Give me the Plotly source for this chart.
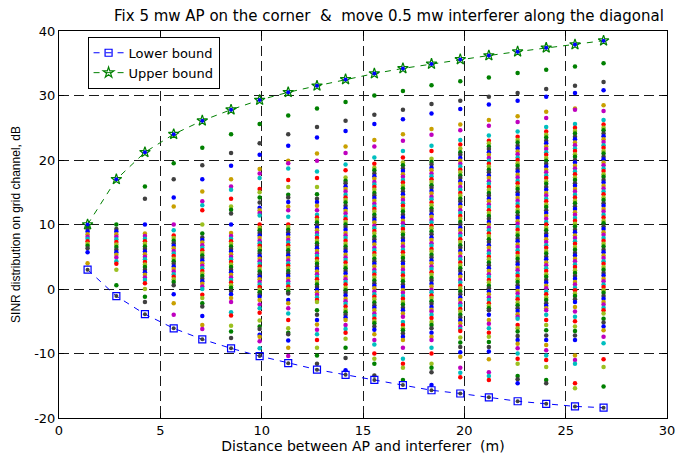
import plotly.graph_objects as go

# ---------------- data ----------------
XPOS = [1.41, 2.83, 4.24, 5.66, 7.07, 8.49, 9.90, 11.31, 12.73, 14.14,
        15.56, 16.97, 18.38, 19.80, 21.21, 22.63, 24.04, 25.46, 26.87]

UPPER = [10.0, 17.0, 21.2, 24.0, 26.1, 27.8, 29.3, 30.5, 31.5, 32.5,
         33.4, 34.2, 34.9, 35.6, 36.2, 36.8, 37.4, 37.9, 38.5]

LOWER = [3.0, -1.1, -3.9, -6.1, -7.8, -9.2, -10.4, -11.5, -12.5, -13.3,
         -14.1, -14.9, -15.7, -16.2, -16.8, -17.4, -17.8, -18.2, -18.4]

COL01 = [9.7, 9.3, 8.9, 8.5, 8.1, 7.8, 7.4, 7.0, 6.7, 6.3, 5.7, 4.0]
COL02 = [10.0, 9.3, 8.9, 8.5, 8.1, 7.7, 7.3, 6.9, 6.5, 6.1, 5.7, 5.3, 4.9, 4.3, 3.9, 3.0, 0.6]
COL03 = [15.9, 14.0, 10.0, 8.6, 8.2, 7.8, 7.4, 7.0, 6.6, 6.2, 5.8, 5.4, 5.0, 4.6, 4.2, 3.8,
         3.4, 3.0, 2.6, 2.2, 1.8, 1.4, 0.9, 0.0, -1.2, -2.0]
COL04 = [19.5, 17.0, 14.2, 12.8, 10.0, 9.1, 8.3, 7.9, 7.5, 7.1, 6.7, 6.3, 5.9, 5.5, 5.1, 4.7,
         4.3, 3.9, 3.5, 3.1, 2.7, 2.3, 1.9, 1.5, 1.1, 0.6, -0.8, -2.2, -4.0]
COL05 = [21.9, 19.2, 17.0, 15.1, 13.6, 13.0, 12.2, 10.0, 8.6, 8.0, 7.6, 7.2, 6.8, 6.4, 6.0,
         5.6, 5.2, 4.8, 4.4, 4.0, 3.6, 3.2, 2.8, 2.4, 2.0, 1.6, 1.2, 0.8, 0.4, 0.0, -0.9,
         -1.4, -2.2, -2.7, -4.2, -5.6, -6.2]
COL06 = [24.0, 21.1, 19.1, 17.0, 15.9, 15.4, 14.0, 12.8, 12.3, 11.7, 10.0, 8.7, 8.2, 7.8,
         7.4, 7.0, 6.6, 6.2, 5.8, 5.4, 5.0, 4.6, 4.2, 3.8, 3.4, 3.0, 2.6, 2.2, 1.8, 1.4, 1.0,
         0.6, 0.2, -0.3, -0.8, -1.4, -2.0, -3.6, -4.1, -5.7, -6.6, -7.6]
COL07 = [25.6, 22.6, 20.8, 18.6, 17.9, 17.2, 15.5, 15.0, 14.2, 13.4, 12.6, 12.2, 11.8, 11.4,
         10.0, 9.5, 9.1, 8.7, 8.3, 7.9, 7.5, 7.1, 6.7, 6.3, 5.9, 5.5, 5.1, 4.7, 4.3, 3.9, 3.5,
         3.1, 2.7, 2.3, 1.9, 1.5, 1.1, 0.7, 0.3, -0.1, -0.5, -0.9, -1.2, -1.7, -2.4, -3.0,
         -3.7, -4.9, -5.8, -6.2, -7.1, -7.4, -8.1, -9.2]
COL08 = [26.9, 24.0, 22.2, 19.9, 19.5, 18.7, 16.9, 15.8, 14.6, 14.2, 13.5, 12.8, 12.2, 11.2,
         10.0, 9.6, 9.2, 8.8, 8.4, 8.0, 7.6, 7.2, 6.8, 6.4, 6.0, 5.6, 5.2, 4.8, 4.4, 4.0, 3.6,
         3.2, 2.8, 2.4, 2.0, 1.6, 1.2, 0.8, 0.4, 0.0, -0.4, -0.7, -1.7, -2.2, -3.0, -3.8,
         -4.8, -6.1, -6.8, -7.0, -8.0, -9.1, -10.4]
COL09 = [28.0, 25.1, 23.5, 21.0, 19.9, 18.2, 17.2, 15.8, 14.7, 14.0, 13.5, 12.9, 12.2, 11.5,
         11.1, 10.7, 10.3, 9.9, 9.5, 9.1, 8.7, 8.3, 7.9, 7.5, 7.1, 6.7, 6.3, 5.9, 5.5, 5.1,
         4.7, 4.3, 3.9, 3.5, 3.1, 2.7, 2.3, 1.9, 1.5, 1.1, 0.7, 0.3, -0.1, -0.5, -0.9, -1.3,
         -1.7, -2.0, -3.3, -4.0, -4.8, -5.5, -6.3, -7.0, -7.9, -9.1, -10.3, -11.6]
COL10 = [29.0, 26.1, 24.5, 22.1, 21.1, 19.3, 18.4, 17.3, 16.8, 16.4, 15.9, 15.5, 15.1, 14.6,
         14.2, 13.8, 13.4, 12.9, 12.5, 12.1, 11.7, 11.2, 10.8, 10.4, 10.0, 9.6, 9.2, 8.7, 8.3,
         7.9, 7.5, 7.0, 6.6, 6.2, 5.8, 5.3, 4.9, 4.5, 4.1, 3.6, 3.2, 2.8, 2.4, 1.9, 1.5, 1.1,
         0.7, 0.2, -0.2, -0.6, -1.0, -1.5, -1.9, -2.3, -2.7, -3.2, -3.6, -4.0, -4.4, -4.8,
         -5.6, -6.2, -6.8, -7.7, -9.1, -10.7, -12.6]
COL11 = [30.0, 27.0, 25.6, 23.1, 22.1, 20.4, 19.4, 18.8, 18.4, 17.9, 17.5, 17.1, 16.6, 16.2,
         15.8, 15.4, 14.9, 14.5, 14.1, 13.7, 13.2, 12.8, 12.4, 12.0, 11.5, 11.1, 10.7, 10.3,
         9.8, 9.4, 9.0, 8.6, 8.1, 7.7, 7.3, 6.9, 6.4, 6.0, 5.6, 5.2, 4.7, 4.3, 3.9, 3.5, 3.0,
         2.6, 2.2, 1.8, 1.3, 0.9, 0.5, 0.1, -0.4, -0.8, -1.2, -1.6, -2.1, -2.5, -2.9, -3.3,
         -3.8, -4.2, -4.6, -5.0, -5.3, -5.8, -6.3, -7.0, -7.9, -8.6, -10.0, -10.8, -11.6, -13.4]
COL12 = [30.7, 27.8, 26.3, 24.0, 23.0, 21.4, 20.4, 19.6, 19.2, 18.7, 18.3, 17.8, 17.4, 16.9,
         16.5, 16.0, 15.6, 15.1, 14.7, 14.2, 13.8, 13.3, 12.9, 12.4, 12.0, 11.5, 11.1, 10.6,
         10.2, 9.7, 9.3, 8.8, 8.4, 7.9, 7.5, 7.0, 6.6, 6.1, 5.7, 5.2, 4.8, 4.3, 3.9, 3.4, 3.0,
         2.5, 2.1, 1.6, 1.2, 0.7, 0.3, -0.2, -0.6, -1.1, -1.5, -2.0, -2.4, -2.9, -3.3, -3.8,
         -4.3, -5.1, -5.6, -6.1, -6.4, -6.9, -7.4, -7.9, -9.1, -10.8, -11.6, -12.2, -14.1]
COL13 = [31.6, 28.7, 27.2, 24.8, 23.9, 22.2, 21.4, 20.2, 19.7, 19.3, 18.8, 18.4, 17.9, 17.5,
         17.0, 16.6, 16.1, 15.7, 15.2, 14.8, 14.3, 13.9, 13.4, 13.0, 12.5, 12.1, 11.6, 11.2,
         10.7, 10.3, 9.8, 9.4, 8.9, 8.5, 8.0, 7.6, 7.1, 6.7, 6.2, 5.8, 5.3, 4.9, 4.4, 4.0, 3.5,
         3.1, 2.6, 2.2, 1.7, 1.3, 0.8, 0.4, -0.1, -0.5, -1.0, -1.4, -1.9, -2.3, -2.8, -3.2,
         -3.5, -4.0, -4.5, -5.1, -5.6, -6.1, -6.8, -7.4, -7.9, -9.1, -10.0, -11.6, -12.2,
         -12.9, -14.9]
COL14 = [32.2, 29.2, 27.9, 25.5, 24.6, 23.1, 22.4, 21.8, 21.2, 20.8, 20.3, 19.9, 19.4, 19.0,
         18.5, 18.1, 17.6, 17.2, 16.7, 16.3, 15.8, 15.4, 14.9, 14.5, 14.0, 13.6, 13.1, 12.7,
         12.2, 11.8, 11.3, 10.9, 10.4, 10.0, 9.5, 9.1, 8.6, 8.2, 7.7, 7.3, 6.8, 6.4, 5.9, 5.5,
         5.0, 4.6, 4.1, 3.7, 3.2, 2.8, 2.3, 1.9, 1.4, 1.0, 0.5, 0.1, -0.4, -0.8, -1.3, -1.7,
         -2.2, -2.6, -3.1, -3.5, -4.0, -4.4, -4.9, -5.3, -5.8, -6.2, -6.5, -7.5, -8.3, -9.0,
         -9.8, -10.5, -12.2, -13.0, -13.7]
COL15 = [32.8, 29.8, 28.6, 26.2, 25.3, 23.8, 23.0, 22.6, 22.1, 21.7, 21.2, 20.8, 20.3, 19.9,
         19.4, 19.0, 18.5, 18.1, 17.6, 17.2, 16.7, 16.3, 15.8, 15.4, 14.9, 14.5, 14.0, 13.6,
         13.1, 12.7, 12.2, 11.8, 11.3, 10.9, 10.4, 10.0, 9.5, 9.1, 8.6, 8.2, 7.7, 7.3, 6.8,
         6.4, 5.9, 5.5, 5.0, 4.6, 4.1, 3.7, 3.2, 2.8, 2.3, 1.9, 1.4, 1.0, 0.5, 0.1, -0.4,
         -0.8, -1.3, -1.7, -2.2, -2.6, -3.0, -3.3, -4.0, -4.8, -5.4, -6.1, -6.8, -7.4, -8.2,
         -9.0, -9.7, -10.9, -12.9, -13.5, -14.1]
COL16 = [33.5, 30.4, 29.2, 26.8, 25.9, 24.4, 23.6, 23.1, 22.7, 22.2, 21.8, 21.3, 20.9, 20.4,
         20.0, 19.5, 19.1, 18.6, 18.2, 17.7, 17.3, 16.8, 16.4, 15.9, 15.5, 15.0, 14.6, 14.1,
         13.7, 13.2, 12.8, 12.3, 11.9, 11.4, 11.0, 10.5, 10.1, 9.6, 9.2, 8.7, 8.3, 7.8, 7.4,
         6.9, 6.5, 6.0, 5.6, 5.1, 4.7, 4.2, 3.8, 3.3, 2.9, 2.4, 2.0, 1.5, 1.1, 0.6, 0.2, -0.3,
         -0.7, -1.2, -1.6, -2.1, -2.5, -3.0, -3.4, -3.9, -4.3, -4.6, -5.6, -6.1, -6.6, -7.3,
         -7.9, -8.5, -9.2, -10.0, -10.8, -11.6, -13.5, -14.0, -14.6]
COL17 = [34.0, 31.0, 29.8, 27.5, 26.5, 25.1, 24.4, 23.9, 23.5, 23.0, 22.6, 22.1, 21.7, 21.2,
         20.8, 20.3, 19.9, 19.4, 19.0, 18.5, 18.1, 17.6, 17.2, 16.7, 16.3, 15.8, 15.4, 14.9,
         14.5, 14.0, 13.6, 13.1, 12.7, 12.2, 11.8, 11.3, 10.9, 10.4, 10.0, 9.5, 9.1, 8.6, 8.2,
         7.7, 7.3, 6.8, 6.4, 5.9, 5.5, 5.0, 4.6, 4.1, 3.7, 3.2, 2.8, 2.3, 1.9, 1.4, 1.0, 0.5,
         0.1, -0.4, -0.8, -1.3, -1.7, -2.2, -2.6, -3.0, -3.3, -4.0, -4.8, -5.6, -6.4, -7.2,
         -7.9, -8.7, -9.5, -10.3, -11.0, -12.1, -14.1, -14.6]
COL18 = [34.5, 31.5, 30.4, 28.0, 27.8, 25.6, 25.0, 24.5, 24.1, 23.6, 23.2, 22.7, 22.3, 21.8,
         21.4, 20.9, 20.5, 20.0, 19.6, 19.1, 18.7, 18.2, 17.8, 17.3, 16.9, 16.4, 16.0, 15.5,
         15.1, 14.6, 14.2, 13.7, 13.3, 12.8, 12.4, 11.9, 11.5, 11.0, 10.6, 10.1, 9.7, 9.2, 8.8,
         8.3, 7.9, 7.4, 7.0, 6.5, 6.1, 5.6, 5.2, 4.7, 4.3, 3.8, 3.4, 2.9, 2.5, 2.0, 1.6, 1.1,
         0.7, 0.2, -0.2, -0.7, -1.1, -1.6, -2.0, -2.8, -3.5, -4.3, -5.0, -5.8, -6.5, -7.2,
         -7.9, -10.3, -11.0, -11.6, -14.6, -15.4]
COL19 = [35.0, 32.1, 30.8, 28.5, 27.6, 26.2, 25.5, 25.0, 24.6, 24.1, 23.7, 23.2, 22.8, 22.3,
         21.9, 21.4, 21.0, 20.5, 20.1, 19.6, 19.2, 18.7, 18.3, 17.8, 17.4, 16.9, 16.5, 16.0,
         15.6, 15.1, 14.7, 14.2, 13.8, 13.3, 12.9, 12.4, 12.0, 11.5, 11.1, 10.6, 10.2, 9.7,
         9.3, 8.8, 8.4, 7.9, 7.5, 7.0, 6.6, 6.1, 5.7, 5.2, 4.8, 4.3, 3.9, 3.4, 3.0, 2.5, 2.1,
         1.6, 1.2, 0.7, 0.3, -0.2, -0.6, -1.1, -1.5, -2.0, -2.4, -2.9, -3.3, -3.8, -4.6, -5.2,
         -5.8, -6.4, -7.4, -8.4, -10.9, -12.1, -15.1]

COLUMNS = [COL01, COL02, COL03, COL04, COL05, COL06, COL07, COL08, COL09, COL10,
           COL11, COL12, COL13, COL14, COL15, COL16, COL17, COL18, COL19]

X_TICKS = [0, 5, 10, 15, 20, 25, 30]
Y_TICKS = [-20, -10, 0, 10, 20, 30, 40]

TITLE = "Fix 5 mw AP on the corner\u00a0 &\u00a0 move 0.5 mw interferer along the diagonal"
XLABEL = "Distance between AP and interferer\u00a0 (m)"
YLABEL = "SINR distribution on grid channel, dB"
SERIES_NAMES = ["Lower bound", "Upper bound"]

# ---------------- styles ----------------
PALETTE = ["#008000", "#404040", "#0000ff", "#c8a000", "#bf00bf", "#00bfbf", "#ff0000", "#9cc020"]
HFONT = "DejaVu Sans"
VFONT = "Liberation Sans, Arial"

xs, ys, cs = [], [], []
for xv, col in zip(XPOS, COLUMNS):
    for i, yv in enumerate(col):
        xs.append(xv)
        ys.append(yv)
        cs.append(PALETTE[i % len(PALETTE)])

fig = go.Figure()

fig.add_trace(go.Scatter(
    x=xs, y=ys, mode="markers", showlegend=False, hoverinfo="skip",
    marker=dict(size=4.5, color=cs, line=dict(width=0)),
))

fig.add_trace(go.Scatter(
    x=XPOS, y=LOWER, mode="lines+markers", name=SERIES_NAMES[0],
    line=dict(color="#0000ff", width=1, dash="6px,6px"),
    marker=dict(symbol="square-open", size=7, color="#0000ff", line=dict(width=1.2)),
))
fig.add_trace(go.Scatter(
    x=XPOS, y=UPPER, mode="lines+markers", name=SERIES_NAMES[1],
    line=dict(color="#008000", width=1, dash="6px,6px"),
    marker=dict(symbol="star-open", size=8, color="#008000", line=dict(width=1.2)),
))
fig.add_trace(go.Scatter(
    x=XPOS, y=UPPER, mode="markers", showlegend=False, hoverinfo="skip",
    marker=dict(size=4, color="#0000ff"),
))
fig.add_trace(go.Scatter(
    x=XPOS, y=LOWER, mode="markers", showlegend=False, hoverinfo="skip",
    marker=dict(size=4, color="#404040"),
))

axis_common = dict(
    showline=True, linecolor="black", linewidth=1, mirror="ticks",
    ticks="inside", ticklen=5, tickcolor="black",
    showgrid=True, gridcolor="#1a1a1a", gridwidth=1, griddash="10px,5px",
    zeroline=False, automargin=False,
    tickfont=dict(family=HFONT, size=13, color="black"),
)

fig.update_xaxes(range=[0, 30], tickvals=X_TICKS, ticktext=[str(v) for v in X_TICKS],
                 title=dict(text=XLABEL, font=dict(family=HFONT, size=14, color="black"), standoff=2),
                 **axis_common)
fig.update_yaxes(range=[-20, 40], tickvals=Y_TICKS, ticktext=[str(v) for v in Y_TICKS],
                 title=dict(text=YLABEL, font=dict(family=VFONT, size=12, color="black"), standoff=10),
                 **axis_common)

fig.update_layout(
    width=697, height=454,
    margin=dict(l=59, r=30, t=31, b=36, autoexpand=False),
    paper_bgcolor="white", plot_bgcolor="white",
    title=dict(text=TITLE, x=0.558, xanchor="center", y=0.965, yanchor="middle",
               automargin=False,
               font=dict(family=HFONT, size=15, color="black")),
    legend=dict(x=0.047, y=0.985, xanchor="left", yanchor="top",
                bgcolor="white", bordercolor="black", borderwidth=1,
                font=dict(family=HFONT, size=13, color="black"),
                tracegroupgap=0, itemwidth=30, entrywidth=105, entrywidthmode="pixels"),
    showlegend=True,
)

fig.write_html("out.html",
               config={"displayModeBar": False},
               post_script="document.body.style.margin='0';document.body.style.overflow='hidden';")
